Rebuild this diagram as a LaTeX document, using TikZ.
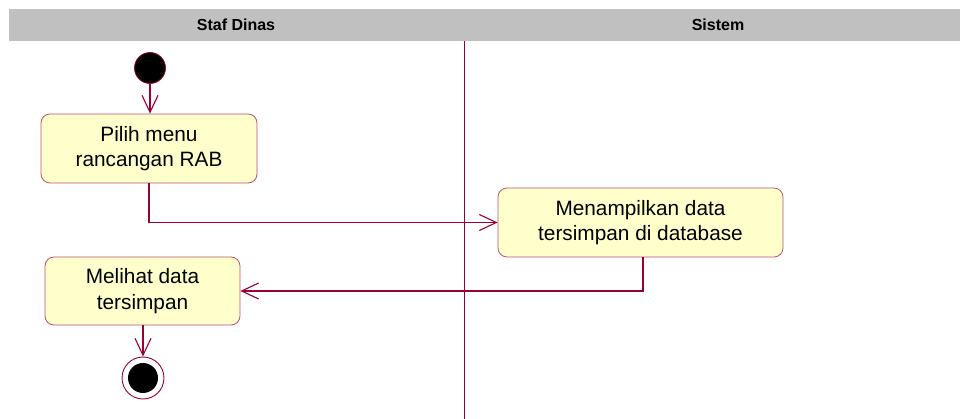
\documentclass[tikz,border=0pt]{standalone}
\usepackage{fontspec}
\setmainfont{Liberation Sans}
\usetikzlibrary{arrows.meta}
\definecolor{linecol}{HTML}{990033}
\definecolor{boxborder}{HTML}{C05070}
\definecolor{boxfill}{HTML}{FFFFCC}
\definecolor{band}{HTML}{C0C0C0}
\tikzset{
  actbox/.style={draw=boxborder, fill=boxfill, rounded corners=9pt, line width=0.8pt,
    align=center, inner sep=0pt, font=\fontsize{20.8}{25.5}\selectfont},
  flow/.style={draw=linecol, line width=1.2pt, -{Straight Barb[length=17pt,width=16pt,line width=1.1pt]}},
  lanehead/.style={font=\fontsize{16}{18}\bfseries\selectfont, inner sep=0pt},
}
\begin{document}
\begin{tikzpicture}[x=1pt,y=-1pt]
\useasboundingbox (0,0) rectangle (960,419);
\fill[band] (9,9) rectangle (960,41);
\node[lanehead] (h1) at (236,25) {Staf Dinas};
\node[lanehead] (h2) at (718,25) {Sistem};
\coordinate (dtop) at (464.5,41);
\coordinate (dbot) at (464.5,419);
\draw[linecol, line width=1.2pt] (dtop) -- (dbot);

\node[circle, fill=black, draw=linecol, line width=0.8pt, minimum size=31pt, inner sep=0pt] (start) at (150,68) {};
\node[actbox, minimum width=216pt, minimum height=69pt] (b1) at (149,148.5) {Pilih menu\\rancangan RAB};
\node[actbox, minimum width=285pt, minimum height=69pt] (b2) at (640.5,222.5) {Menampilkan data\\tersimpan di database};
\node[actbox, minimum width=195pt, minimum height=68pt] (b3) at (142.5,291) {Melihat data\\tersimpan};
\node[circle, draw=linecol, fill=white, line width=0.9pt, minimum size=42pt, inner sep=0pt] (end) at (143,378) {};
\node[circle, fill=black, minimum size=30pt, inner sep=0pt] (endin) at (end.center) {};

\draw[flow] (start) -- (b1.north -| start);
\draw[flow] (b1.south) |- (b2.west);
\draw[flow] ([xshift=2.5pt]b2.south) |- (b3.east);
\draw[flow] (b3.south -| end) -- (end.north);
\end{tikzpicture}
\end{document}
